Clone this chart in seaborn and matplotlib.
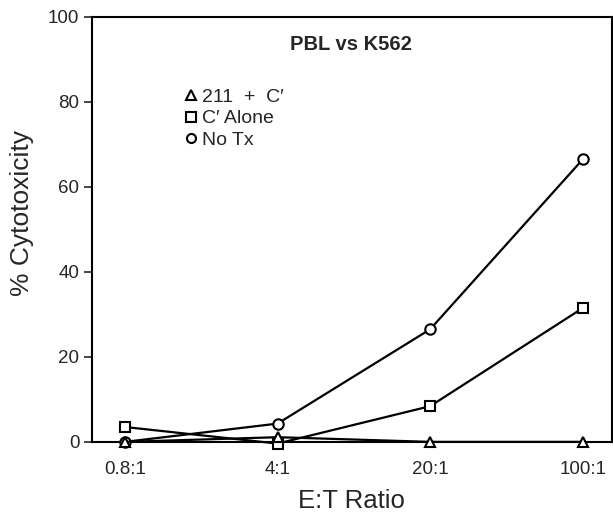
import pandas as pd
import matplotlib
matplotlib.use("Agg")
import matplotlib.pyplot as plt
from matplotlib.lines import Line2D
import seaborn as sns

# data
ratios = ["0.8:1", "4:1", "20:1", "100:1"]
no_tx = [0.0, 4.3, 26.5, 66.5]
c_alone = [3.5, -0.4, 8.4, 31.5]
ab_211_c = [0.0, 1.1, 0.0, 0.0]

series_names = ["No Tx", "C\u2032 Alone", "211  +  C\u2032"]
series_vals = [no_tx, c_alone, ab_211_c]
series_markers = ["o", "s", "^"]

rows = []
for name, vals in zip(series_names, series_vals):
    for r, v in zip(ratios, vals):
        rows.append({"ratio": r, "cytotox": v, "group": name})
df = pd.DataFrame(rows)

sns.set_style("ticks")
plt.rcParams["font.family"] = ["Liberation Sans", "DejaVu Sans"]

fig = plt.figure(figsize=(6.13, 5.15), dpi=100)
ax = fig.add_axes([0.150, 0.142, 0.848, 0.825])

for name, mk in zip(series_names, series_markers):
    sub = df[df["group"] == name]
    sns.lineplot(data=sub, x="ratio", y="cytotox", ax=ax, color="black",
                 linewidth=1.6, marker=mk, markersize=7.5, markerfacecolor="white",
                 markeredgecolor="black", markeredgewidth=1.5, legend=False,
                 clip_on=False, zorder=3)

ax.set_xlim(-0.216, 3.19)
ax.set_ylim(0, 100)
ax.set_yticks([0, 20, 40, 60, 80, 100])
ax.tick_params(axis="y", labelsize=13.5, length=6, width=1.2, direction="out", pad=3)
ax.tick_params(axis="x", labelsize=13.5, length=0, pad=14)
for s in ax.spines.values():
    s.set_linewidth(1.5)
    s.set_color("black")

ax.set_xlabel("E:T Ratio", fontsize=18.5)
ax.xaxis.set_label_coords(0.5, -0.112)
ax.set_ylabel("% Cytotoxicity", fontsize=19)
ax.yaxis.set_label_coords(-0.112, 0.539)
ax.text(0.498, 0.936, "PBL vs K562", transform=ax.transAxes, ha="center",
        va="center", fontsize=14.5, fontweight="bold")

# legend: markers only, listed top to bottom as in the figure
handles = []
labels = []
for name, mk in zip(series_names[::-1], series_markers[::-1]):
    handles.append(Line2D([], [], linestyle="none", marker=mk, markersize=6.5,
                          markerfacecolor="white", markeredgecolor="black",
                          markeredgewidth=1.5))
    labels.append(name)
ax.legend(handles, labels, loc="upper left", bbox_to_anchor=(0.16, 0.855),
          frameon=False, fontsize=14, handlelength=0.6, handletextpad=0.3,
          labelspacing=0.2, borderpad=0)

fig.savefig("out.png", dpi=100)
